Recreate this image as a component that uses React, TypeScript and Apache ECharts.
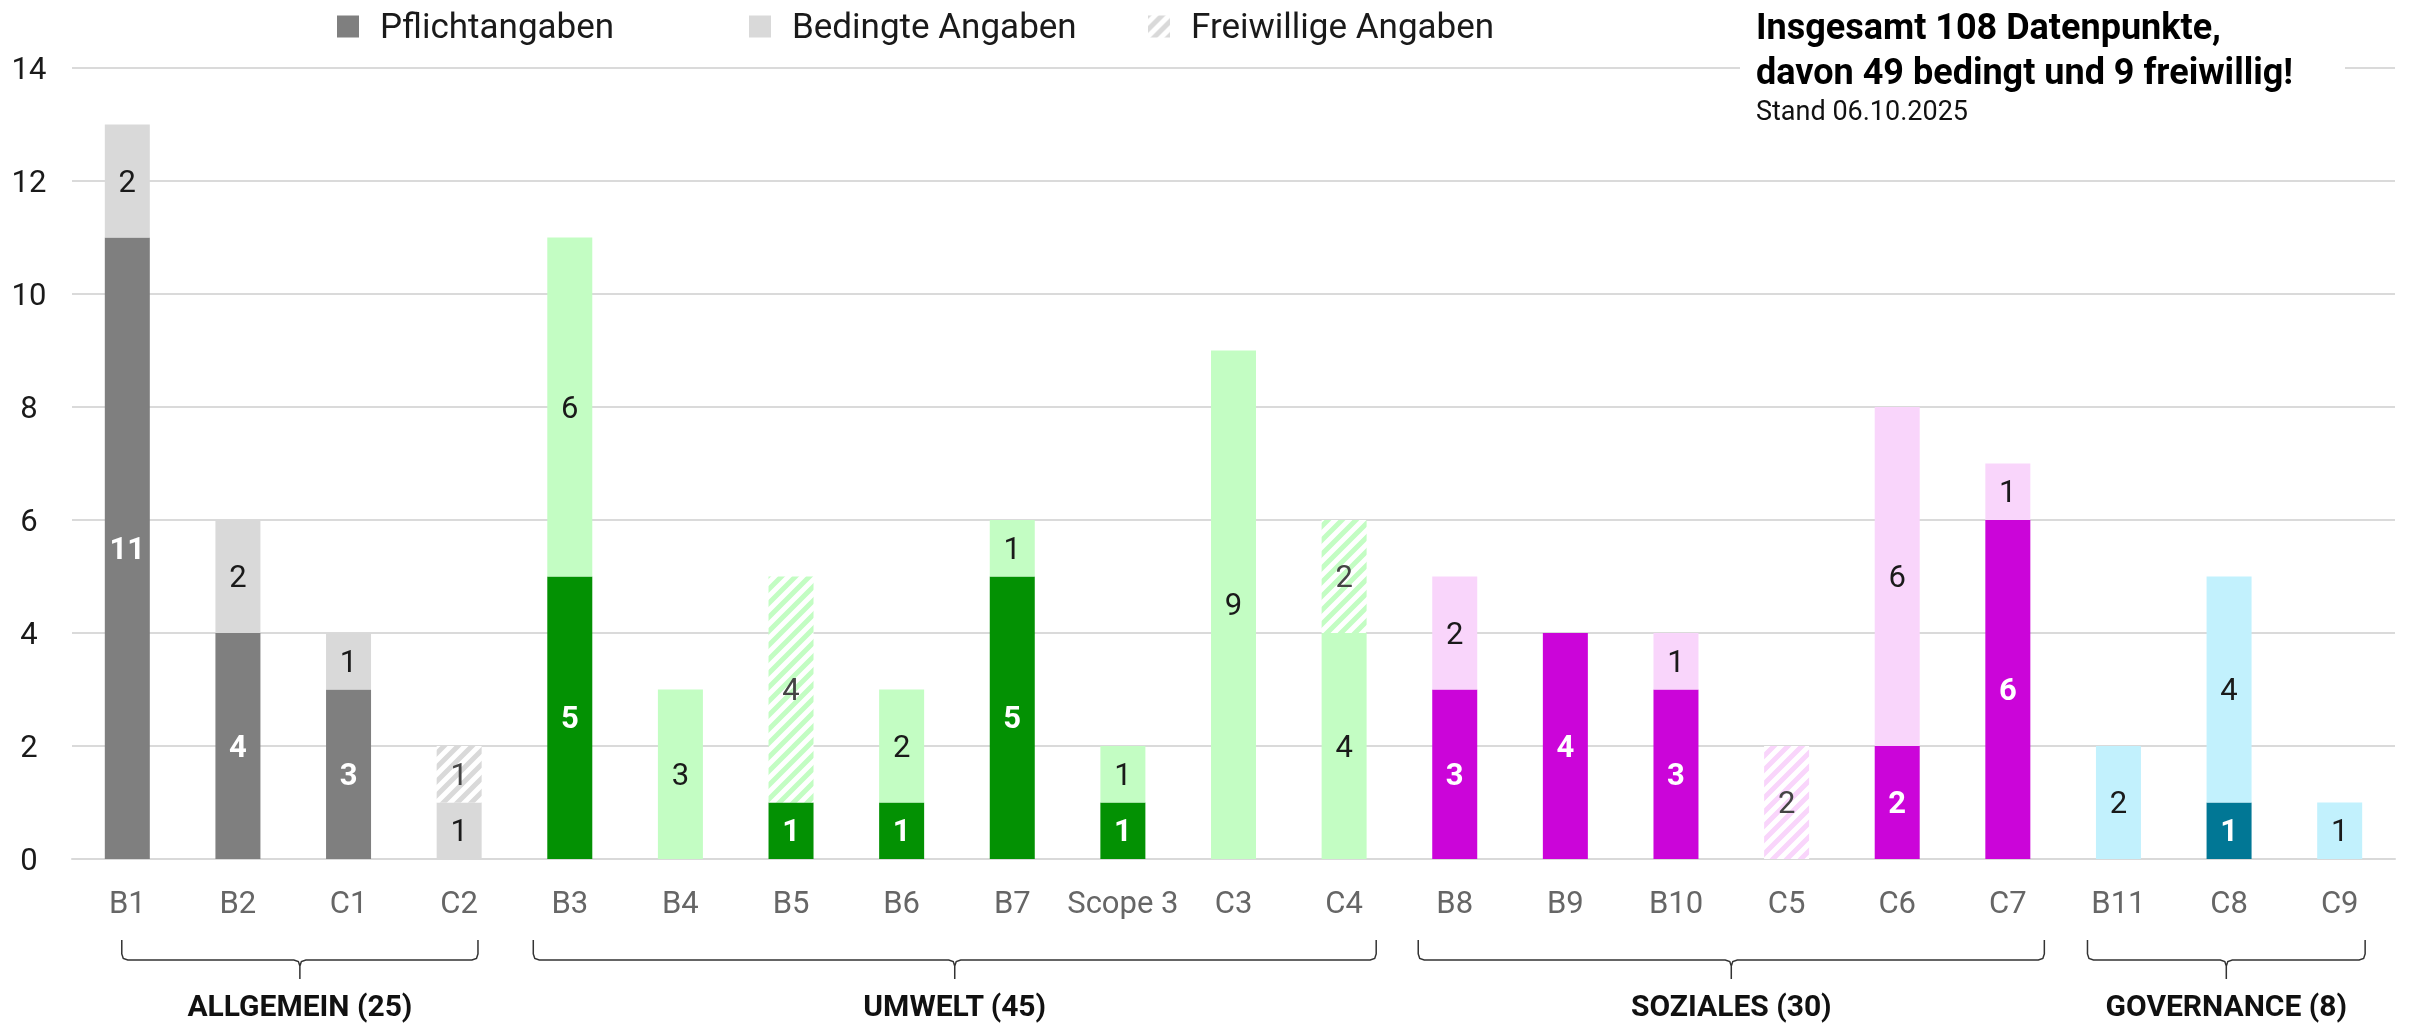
import React, { useEffect, useRef } from 'react';
import * as echarts from 'echarts';

const categories = ['B1', 'B2', 'C1', 'C2', 'B3', 'B4', 'B5', 'B6', 'B7', 'Scope 3', 'C3', 'C4', 'B8', 'B9', 'B10', 'C5', 'C6', 'C7', 'B11', 'C8', 'C9'];
const groupOfCategory = [0, 0, 0, 0, 1, 1, 1, 1, 1, 1, 1, 1, 2, 2, 2, 2, 2, 2, 3, 3, 3];
const groupNames = ['ALLGEMEIN (25)', 'UMWELT (45)', 'SOZIALES (30)', 'GOVERNANCE (8)'];
const groupStart = [0, 4, 12, 18];
const groupEnd = [3, 11, 17, 20];
const mandatory = [11, 4, 3, null, 5, null, 1, 1, 5, 1, null, null, 3, 4, 3, null, 2, 6, null, 1, null];
const conditional = [2, 2, 1, 1, 6, 3, null, 2, 1, 1, 9, 4, 2, null, 1, null, 6, 1, 2, 4, 1];
const voluntary = [null, null, null, 1, null, null, 4, null, null, null, null, 2, null, null, null, 2, null, null, null, null, null];
const legendNames = ['Pflichtangaben', 'Bedingte Angaben', 'Freiwillige Angaben'];
const titleText = 'Insgesamt 108 Datenpunkte,\ndavon 49 bedingt und 9 freiwillig!';
const subText = 'Stand 06.10.2025';

// styles
const darkColors = ['#7f7f7f', '#039103', '#cb05d9', '#017795'];
const lightColors = ['#d9d9d9', '#c3fdc3', '#f9d5fb', '#c2f1fd'];
const bracketPad = [[-0.05, 0.17], [-0.33, 0.29], [-0.33, 0.33], [-0.28, 0.23]];
const legendLeft = [332, 744, 1143];
const FONT = 'Roboto';

function makeHatch(color: string) {
  const size = 14;
  const c = document.createElement('canvas');
  c.width = size;
  c.height = size;
  const ctx = c.getContext('2d')!;
  ctx.fillStyle = '#ffffff';
  ctx.fillRect(0, 0, size, size);
  ctx.strokeStyle = color;
  ctx.lineWidth = 5;
  ctx.beginPath();
  for (let k = -1; k <= 1; k++) {
    ctx.moveTo(k * size - 2, size + 2);
    ctx.lineTo(k * size + size + 2, -2);
  }
  ctx.stroke();
  return { image: c, repeat: 'repeat' as const };
}

const labelFmt = (p: any) => (p.value == null || p.value === 0 ? '' : String(p.value));

export default function App() {
  const ref = useRef<HTMLDivElement>(null);
  useEffect(() => {
    if (!ref.current) return;
    const chart = echarts.init(ref.current, null, { renderer: 'svg' });
    const hatches = lightColors.map((c) => makeHatch(c));

    chart.setOption({
      animation: false,
      textStyle: { fontFamily: FONT },
      title: {
        text: titleText,
        subtext: subText,
        left: 1740,
        top: 0,
        padding: [4, 52, 8, 16],
        backgroundColor: '#ffffff',
        itemGap: 2,
        textStyle: { fontFamily: FONT, fontSize: 36, fontWeight: 'bold', color: '#000', lineHeight: 45 },
        subtextStyle: { fontFamily: FONT, fontSize: 27, color: '#111', lineHeight: 30 },
        z: 10,
      },
      legend: legendNames.map((n, i) => ({
        left: legendLeft[i],
        top: 4,
        itemWidth: 22,
        itemHeight: 22,
        itemGap: 0,
        icon: 'rect',
        data: [n],
        textStyle: { fontFamily: FONT, fontSize: 35, color: '#1a1a1a', padding: [0, 0, 0, 16] },
      })),
      grid: { left: 72, right: 20, top: 68, bottom: 167 },
      xAxis: {
        type: 'category',
        data: categories,
        axisTick: { show: false },
        axisLine: { lineStyle: { color: '#d9d9d9', width: 2 } },
        axisLabel: { interval: 0, fontSize: 31, color: '#666', margin: 28, fontFamily: FONT },
      },
      yAxis: {
        type: 'value',
        min: 0,
        max: 14,
        interval: 2,
        axisLabel: { fontSize: 31, color: '#1a1a1a', align: 'center', margin: 43, fontFamily: FONT },
        splitLine: { lineStyle: { color: '#dadada', width: 2 } },
      },
      series: [
        {
          name: legendNames[0],
          type: 'bar',
          stack: 'total',
          barWidth: 45,
          itemStyle: { color: darkColors[0] },
          label: { show: true, position: 'inside', color: '#fff', fontWeight: 'bold', fontSize: 31, fontFamily: FONT, formatter: labelFmt },
          data: mandatory.map((v, i) => ({ value: v, itemStyle: { color: darkColors[groupOfCategory[i]] } })),
        },
        {
          name: legendNames[1],
          type: 'bar',
          stack: 'total',
          barWidth: 45,
          itemStyle: { color: lightColors[0] },
          label: { show: true, position: 'inside', color: '#1a1a1a', fontSize: 31, fontFamily: FONT, formatter: labelFmt },
          data: conditional.map((v, i) => ({ value: v, itemStyle: { color: lightColors[groupOfCategory[i]] } })),
        },
        {
          name: legendNames[2],
          type: 'bar',
          stack: 'total',
          barWidth: 45,
          itemStyle: { color: hatches[0] },
          label: { show: true, position: 'inside', color: '#444', fontSize: 31, fontFamily: FONT, formatter: labelFmt },
          data: voluntary.map((v, i) => ({ value: v, itemStyle: { color: hatches[groupOfCategory[i]] } })),
        },
      ],
    });

    const px = (i: number) => chart.convertToPixel({ xAxisIndex: 0 }, i) as number;
    const band = px(1) - px(0);
    const yTop = 940;
    const yLine = 960;
    const yTip = 979;
    const yLabel = 1005;
    const graphics: any[] = [];
    groupNames.forEach((name, g) => {
      const x0 = px(groupStart[g]) + bracketPad[g][0] * band;
      const x1 = px(groupEnd[g]) + bracketPad[g][1] * band;
      const xm = (x0 + x1) / 2;
      const r = 6;
      graphics.push({
        type: 'polyline',
        shape: {
          points: [
            [x0, yTop], [x0, yLine - r], [x0 + 1.5, yLine - 1.5], [x0 + r, yLine],
            [xm - r, yLine], [xm - 1.5, yLine + 1.5], [xm, yLine + r], [xm, yTip],
            [xm, yLine + r], [xm + 1.5, yLine + 1.5], [xm + r, yLine],
            [x1 - r, yLine], [x1 - 1.5, yLine - 1.5], [x1, yLine - r], [x1, yTop],
          ],
        },
        style: { stroke: '#333', lineWidth: 1.5, fill: null },
      });
      graphics.push({
        type: 'text',
        x: xm,
        y: yLabel,
        style: { text: name, fontFamily: FONT, fontSize: 30, fontWeight: 'bold', fill: '#111', align: 'center', verticalAlign: 'middle', lineHeight: 34 },
      });
    });
    chart.setOption({ graphic: graphics });

    return () => chart.dispose();
  }, []);
  return <div ref={ref} style={{ position: 'fixed', left: 0, top: 0, width: 2415, height: 1026 }} />;
}
